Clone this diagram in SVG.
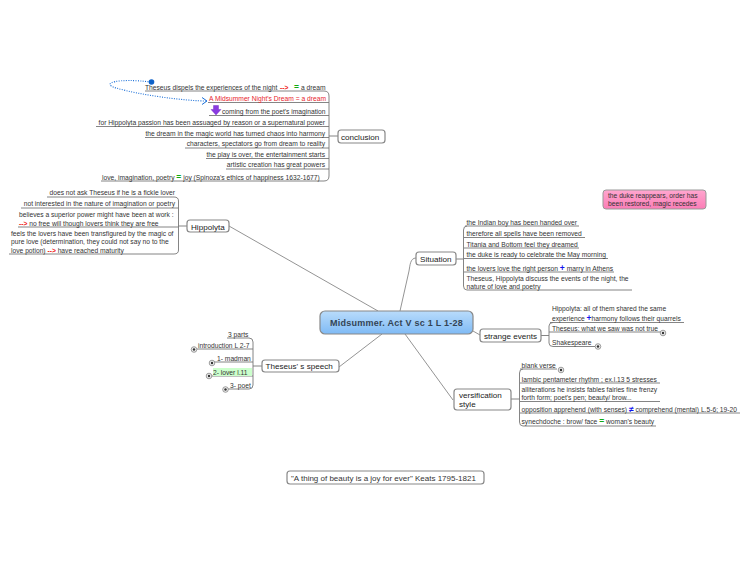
<svg xmlns="http://www.w3.org/2000/svg" width="750" height="563" viewBox="0 0 750 563">
<style>
text{font-family:"Liberation Sans",Arial,sans-serif;font-size:6.7px;fill:#333}
.n text{font-size:8.100px;fill:#222}
.b{fill:#fff;stroke:#888;stroke-width:1.2}
.l{fill:none;stroke:#777;stroke-width:.9}
.c{fill:none;stroke:#888;stroke-width:.9}
.p{fill:#eee;stroke:#777;stroke-width:.7}
.d{fill:#333}
.r{fill:#e11;font-weight:bold}.g{fill:#1a1;font-weight:bold;font-size:8.500px}.u{fill:#11e;font-weight:bold;font-size:8.500px}
</style>
<defs>
<linearGradient id="cg" x1="0" y1="0" x2="0" y2="1"><stop offset="0" stop-color="#b9dcfb"/><stop offset="1" stop-color="#7fbaf5"/></linearGradient>
<linearGradient id="pg" x1="0" y1="0" x2="0" y2="1"><stop offset="0" stop-color="#ffa6cf"/><stop offset="1" stop-color="#fb7db6"/></linearGradient>
<marker id="oa" markerWidth="7" markerHeight="8" refX="6" refY="4" orient="auto" markerUnits="userSpaceOnUse"><path d="M1 .5L6 4L1 7.5" fill="none" stroke="#1a6fd8" stroke-width="1"/></marker>
<g id="plus"><circle r="2.8" class="p"/><circle r="1.2" class="d"/></g>
</defs>
<g id="connectors">
<path class="c" d="M229 226L378 311M416 258C410 258 410 266 409 271L400 311M473 331L480 335M405 334L453 400M382 334L339 367"/>
<path class="l" d="M145 91H324Q329 91 329 96V176Q329 181 324 181H101M208 102.500H329M209 115.500H329M96 126.500H329M145 137.500H329M185 148H329M206 158.500H329M226 169H329M329 136H338"/>
<path class="l" d="M47 197H174Q178.500 197 178.500 201V250Q178.500 254 174 254H9M21 208H178.500M18 227H178.500M178.500 226H187"/>
<path class="l" d="M227 338H249Q253 338 253 342V385Q253 389 249 389H228M197 349H253M212 362H253M212 376H253M253 366H262"/>
<path class="l" d="M465 226H579M467 226Q463.500 226 463.500 230V286Q463.500 290 467 290H632M464 237.500H585M464 248H579M464 258.500H608M464 272H614M456 259H463.500"/>
<path class="l" d="M550 322.500H684M553 322.500Q549 322.500 549 326V343Q549 346.500 553 346.500H595M549 332H662M541 335.500H549"/>
<path class="l" d="M520 369H557M523 369Q519.500 369 519.500 373V422Q519.500 426 523 426H656M520 383H660M520 401.500H660M520 413H740M511 399H519.500"/>
<path d="M151 82C118 78 100 83 116 88C140 95 185 101 207 101" fill="none" stroke="#1a6fd8" stroke-width="1.100" stroke-dasharray="1 1.400" marker-end="url(#oa)"/>
<circle cx="151.500" cy="82" r="2.800" fill="#0d62c9"/>
</g>
<g id="center"><rect x="320" y="311" width="153" height="23" rx="5" fill="url(#cg)" stroke="#888" stroke-width="1.200"/><text x="396.500" y="325.500" text-anchor="middle" style="font-size:9px;font-weight:bold;fill:#345;letter-spacing:.25px">Midsummer. Act V sc 1 L 1-28</text></g>
<g id="conclusion" class="n"><rect class="b" x="338" y="130" width="47" height="13" rx="3"/><text x="341" y="139.500">conclusion</text></g>
<g id="hippolyta" class="n"><rect class="b" x="187" y="220" width="42" height="12" rx="3"/><text x="191" y="229.500">Hippolyta</text></g>
<g id="theseus-speech" class="n"><rect class="b" x="262" y="360" width="77" height="12" rx="3"/><text x="265.500" y="369">Theseus' s speech</text></g>
<g id="situation" class="n"><rect class="b" x="416" y="252" width="40" height="13" rx="3"/><text x="420" y="261.500">Situation</text></g>
<g id="strange-events" class="n"><rect class="b" x="480" y="329" width="61" height="13" rx="3"/><text x="484" y="338.500">strange events</text></g>
<g id="versification" class="n"><rect class="b" x="454" y="389" width="57" height="21" rx="3"/><text x="459" y="397.500">versification</text><text x="459" y="406.500">style</text></g>
<g id="note"><rect x="603" y="190" width="103" height="19" rx="3" fill="url(#pg)" stroke="#999"/><text x="608" y="198">the duke reappears, order has</text><text x="608" y="205.500">been restored, magic recedes</text></g>
<g id="keats"><rect class="b" x="287" y="471" width="197" height="13" rx="3"/><text x="291" y="480.500" style="font-size:8px">"A thing of beauty is a joy for ever" Keats 1795-1821</text></g>
<g id="conclusion-items">
<text x="145" y="89.500">Theseus dispels the experiences of the night <tspan class="r" x="280">--&gt;</tspan> <tspan class="g" x="294">=</tspan> <tspan x="301">a dream</tspan></text>
<text x="326" y="100.500" text-anchor="end" style="fill:#e8232c">A Midsummer Night's Dream = a dream</text>
<path d="M213.500 105.500h5v4h2.500l-5 5.500l-5-5.500h2.500z" fill="#8a3be0" stroke="#6a1fc0" stroke-width=".4"/>
<text x="222" y="113.500">coming from the poet's imagination</text>
<text x="325" y="124.500" text-anchor="end">for Hippolyta passion has been assuaged by reason or a supernatural power</text>
<text x="325" y="135.500" text-anchor="end">the dream in the magic world has turned chaos into harmony</text>
<text x="325" y="146" text-anchor="end">characters, spectators go from dream to reality</text>
<text x="325" y="156.500" text-anchor="end">the play is over, the entertainment starts</text>
<text x="325" y="167" text-anchor="end">artistic creation has great powers</text>
<text x="102" y="179.500">love, imagination, poetry <tspan class="g">=</tspan> joy (Spinoza's ethics of happiness 1632-1677)</text>
</g>
<g id="hippolyta-items">
<text x="175" y="195" text-anchor="end">does not ask Theseus if he is a fickle lover</text>
<text x="175" y="206" text-anchor="end">not interested in the nature of imagination or poetry</text>
<text x="19" y="217">believes a superior power might have been at work :</text>
<text x="19" y="225.500"><tspan class="r">--&gt;</tspan> no free will though lovers think they are free</text>
<text x="11" y="236">feels the lovers have been transfigured by the magic of</text>
<text x="11" y="244">pure love (determination, they could not say no to the</text>
<text x="11" y="252.500">love potion) <tspan class="r">--&gt;</tspan> have reached maturity</text>
</g>
<g id="speech-items">
<rect x="213" y="368" width="39" height="8" fill="#cfc"/>
<text x="228" y="336.500">3 parts</text>
<text x="198" y="347.500">introduction L 2-7</text>
<text x="217" y="361">1- madman</text>
<text x="213" y="374.500">2- lover l.11</text>
<text x="230" y="388">3- poet</text>
<use href="#plus" x="194" y="349.500"/><use href="#plus" x="212" y="363"/><use href="#plus" x="209" y="376"/><use href="#plus" x="225.500" y="389.500"/>
</g>
<g id="situation-items">
<text x="466.500" y="224.500">the Indian boy has been handed over</text>
<text x="466.500" y="235.500">therefore all spells have been removed</text>
<text x="466.500" y="246.500">Titania and Bottom feel they dreamed</text>
<text x="466.500" y="257">the duke is ready to celebrate the May morning</text>
<text x="466.500" y="270.500">the lovers love the right person <tspan class="u">+</tspan> marry in Athens</text>
<text x="466.500" y="281">Theseus, Hippolyta discuss the events of the night, the</text>
<text x="466.500" y="289">nature of love and poetry</text>
</g>
<g id="strange-items">
<text x="552" y="310.500">Hippolyta: all of them shared the same</text>
<text x="552" y="320.500">experience <tspan class="u">+</tspan>harmony follows their quarrels</text>
<text x="552" y="330.500">Theseus: what we saw was not true</text>
<text x="552" y="344.500">Shakespeare</text>
<use href="#plus" x="663" y="333"/><use href="#plus" x="598" y="346.500"/>
</g>
<g id="versification-items">
<text x="521.500" y="367.500">blank verse</text>
<text x="521.500" y="381.500">Iambic pentameter rhythm ; ex.l.13 5 stresses</text>
<text x="521.500" y="391.500">alliterations he insists fables fairies fine frenzy</text>
<text x="521.500" y="399.500">forth form; poet's pen; beauty/ brow...</text>
<text x="521.500" y="411.500">opposition  apprehend (with senses) <tspan class="u">≠</tspan> comprehend (mental) L.5-6; 19-20</text>
<text x="521.500" y="424">synechdoche : brow/ face <tspan class="g">=</tspan> woman's beauty</text>
<use href="#plus" x="561" y="370"/>
</g>
</svg>
